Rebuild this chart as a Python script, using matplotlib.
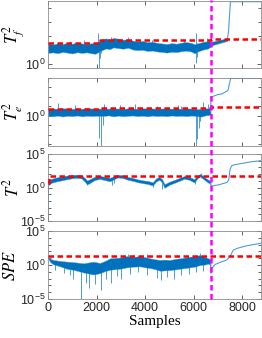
import numpy as np
import matplotlib
matplotlib.use("Agg")
import matplotlib.pyplot as plt
from matplotlib.ticker import FixedLocator, NullFormatter, LogFormatterSciNotation
from matplotlib.lines import Line2D

plt.rcParams["font.family"] = ["Liberation Sans", "DejaVu Sans"]
plt.rcParams["mathtext.fontset"] = "stix"

# all y values are log10 of the statistic
fault = 6710
x_end = 8780
x_ticks = [0, 2000, 4000, 6000, 8000]

# ---- T_f^2
tf_x = [0, 200, 400, 600, 800, 1000, 1200, 1400, 1600, 1800, 1950, 2250, 2400, 2550, 2700, 2900,
        3100, 3300, 3500, 3700, 3900, 4100, 4300, 4500, 4700, 4900, 5100, 5300, 5500, 5700,
        5900, 6050, 6200, 6400, 6600, 6800, 7000, 7200, 7400]
tf_hi = [1.45, 1.38, 1.47, 1.42, 1.50, 1.44, 1.52, 1.46, 1.40, 1.48, 1.45, 1.78, 1.82, 1.74, 1.86, 1.80,
         1.72, 1.78, 1.66, 1.60, 1.64, 1.55, 1.58, 1.50, 1.46, 1.42, 1.48, 1.44, 1.52, 1.56,
         1.50, 1.40, 1.48, 1.58, 1.62, 1.60, 1.68, 1.76, 1.86]
tf_lo = [0.78, 0.82, 0.76, 0.85, 0.80, 0.74, 0.83, 0.78, 0.82, 0.75, 0.72, 1.00, 1.10, 1.05, 1.18, 1.12,
         1.08, 1.15, 1.02, 0.98, 1.00, 0.92, 0.95, 0.88, 0.85, 0.80, 0.86, 0.84, 0.90, 0.94,
         0.88, 0.75, 0.90, 1.02, 1.10, 1.35, 1.45, 1.55, 1.65]
tf_spk_x = [2080, 2110, 2150, 2200, 6090, 6120, 6160, 900, 1500, 3300, 4300, 5600, 6550, 2600]
tf_spk_a = [1.2, -0.5, 0.4, 0.8, 1.2, 0.05, 0.5, 1.3, 1.3, 1.6, 1.4, 1.4, 1.5, 1.5]
tf_spk_b = [2.2, 1.4, 1.6, 1.7, 2.2, 1.4, 1.5, 1.62, 1.68, 1.95, 1.72, 1.70, 1.85, 1.95]
tf_post_x = [7400, 7440, 7480, 7520, 8780]
tf_post_y = [1.8, 2.3, 3.4, 4.45, 4.45]
tf_thr_x = [0, 2150, fault, x_end]
tf_thr_y = [1.46, 1.70, 1.79, 1.79]

# ---- T_e^2
te_x = [0, 200, 400, 600, 800, 1000, 1200, 1400, 1600, 1800, 2000, 2300, 2500, 2700, 2900, 3100,
        3300, 3500, 3700, 3900, 4100, 4300, 4500, 4700, 4900, 5100, 5300, 5500, 5700, 5900,
        6050, 6300, 6500, 6700]
te_hi = [0.72, 0.78, 0.74, 0.80, 0.76, 0.73, 0.79, 0.75, 0.81, 0.77, 0.74, 0.78, 0.75, 0.80, 0.76, 0.73,
         0.79, 0.77, 0.74, 0.80, 0.76, 0.78, 0.73, 0.77, 0.80, 0.75, 0.78, 0.74, 0.79, 0.76,
         0.72, 0.70, 0.78, 0.80]
te_lo = [0.05, -0.05, 0.02, -0.08, 0.00, -0.04, 0.03, -0.06, 0.01, -0.03, 0.00, -0.02, 0.04, -0.07, 0.02, -0.05,
         0.00, 0.03, -0.04, 0.01, -0.06, 0.02, -0.03, 0.00, -0.05, 0.03, -0.02, 0.01, -0.04, 0.02,
         0.00, -0.10, 0.05, 0.10]
te_spk_x = [2090, 2190, 2250, 6100, 6150, 6220, 6270, 400, 1100, 2300, 2970, 3600, 4500, 5370, 5500, 6400, 6600]
te_spk_a = [-2.4, -3.5, -1.0, -3.5, -2.5, -1.3, -0.5, 0.6, 0.6, 0.6, 0.6, 0.6, 0.6, 0.6, 0.6, 0.6, 0.6]
te_spk_b = [0.3, 0.3, 0.3, 0.3, 0.3, 0.3, 0.3, 1.35, 1.1, 1.25, 1.15, 1.2, 1.05, 1.1, 1.0, 1.5, 1.3]
te_post_x = [6700, 6720, 6850, 7000, 7150, 7300, 7420, 7480, 7530, 8780]
te_post_y = [0.4, 2.0, 2.1, 2.25, 2.3, 2.5, 2.7, 3.4, 3.95, 3.95]
te_thr_x = [0, 2150, fault, x_end]
te_thr_y = [0.69, 0.79, 0.90, 0.90]

# ---- T^2
t2_x = [0, 140, 345, 550, 760, 965, 1170, 1380, 1510, 1610, 1750, 1920, 2130, 2330, 2540, 2650,
        2750, 2880, 3090, 3290, 3500, 3700, 3900, 4110, 4320, 4450, 4590, 4700, 4800, 5000,
        5200, 5410, 5620, 5820, 6030, 6170, 6280, 6440, 6580, 6700]
t2_hi = [0.95, 1.30, 1.50, 1.62, 1.78, 1.85, 1.92, 1.85, 1.45, 1.05, 1.28, 1.60, 1.75, 1.60, 1.45, 1.58,
         1.75, 1.90, 1.82, 1.58, 1.42, 1.22, 1.08, 0.98, 0.78, 1.35, 1.58, 1.25, 0.50, 0.85,
         1.12, 1.42, 1.72, 1.58, 1.25, 1.82, 2.02, 1.58, 1.22, 0.95]
t2_lo = [0.30, 0.70, 0.90, 1.05, 1.22, 1.35, 1.45, 1.35, 0.90, 0.45, 0.72, 1.10, 1.28, 1.12, 0.92, 1.10,
         1.28, 1.50, 1.40, 1.15, 0.98, 0.78, 0.65, 0.52, 0.30, 0.88, 1.15, 0.75, -0.05, 0.40,
         0.68, 0.98, 1.30, 1.15, 0.75, 1.40, 1.65, 1.15, 0.78, 0.50]
t2_spk_x = [10, 1610, 2650, 2720, 4340, 4700, 6050, 6300]
t2_spk_a = [-4.95, 0.4, 0.3, 0.6, 0.1, -0.2, 0.5, 1.4]
t2_spk_b = [0.6, 0.9, 1.3, 1.5, 0.6, 1.0, 1.1, 2.1]
t2_post_x = [6700, 6720, 7000, 7200, 7370, 7450, 7500, 7560, 7640, 8000, 8400, 8780]
t2_post_y = [0.75, 0.22, 0.37, 0.57, 0.75, 1.1, 2.6, 3.2, 3.36, 3.6, 3.85, 4.0]
t2_thr_x = [0, 60, fault, x_end]
t2_thr_y = [0.63, 1.72, 1.76, 1.76]

# ---- SPE
spe_x = [0, 100, 220, 500, 770, 1100, 1460, 1870, 2145, 2350, 2560, 2970, 3250, 3500, 3800, 4000,
         4210, 4400, 4620, 4800, 5030, 5250, 5440, 5650, 5860, 6050, 6270, 6450, 6610, 6700]
spe_hi = [1.23, 0.90, 0.74, 0.60, 0.50, 0.40, 0.25, 0.49, 0.30, 0.60, 0.98, 1.10, 1.30, 1.20, 1.30, 1.15,
          0.98, 0.85, 0.74, 0.80, 0.74, 0.90, 0.98, 1.10, 1.23, 1.30, 1.47, 1.20, 0.98, 0.80]
spe_lo = [1.00, 0.40, 0.10, -0.20, -0.55, -0.75, -1.10, -1.40, -1.20, -0.90, -0.70, -0.55, -0.35, -0.25, -0.20, -0.35,
          -0.45, -0.60, -0.85, -0.80, -0.75, -0.65, -0.55, -0.45, -0.35, -0.25, 0.00, 0.05, 0.20, 0.00]
spe_spk_x = [300, 650, 900, 1050, 1350, 1550, 1700, 1950, 2180, 2400, 2600, 2850, 3000, 3400, 3700,
             4100, 4500, 4650, 4900, 5200, 5500, 5800, 6100, 6400, 3300, 3500, 4100, 6250]
spe_spk_a = [-0.8, -1.2, -1.5, -2.0, -4.95, -2.6, -3.4, -2.8, -3.7, -2.0, -2.7, -1.6, -2.0, -1.3, -1.1,
             -1.4, -1.9, -2.2, -1.8, -2.0, -1.5, -1.3, -1.1, -0.9, 0.8, 0.8, 0.6, 0.9]
spe_spk_b = [0.2, 0.0, -0.2, -0.3, -0.5, -0.6, -0.6, -0.5, -0.5, -0.3, 0.0, 0.2, 0.2, 0.4, 0.4,
             0.2, 0.0, -0.2, -0.2, 0.0, 0.2, 0.3, 0.4, 0.4, 1.6, 1.5, 1.55, 1.7]
spe_post_x = [6700, 6720, 6750, 6900, 7100, 7370, 7500, 7640, 7800, 8150, 8780]
spe_post_y = [0.2, -1.2, -0.5, 0.1, 0.4, 0.74, 1.23, 2.2, 2.45, 2.8, 3.2]
spe_thr_x = [0, x_end]
spe_thr_y = [1.32, 1.32]

blue = "#0072BD"
light = "#4d9bd6"
dash = (0, (2.2, 1.4))

fig = plt.figure(figsize=(2.62, 3.38), dpi=100)
W, H = 262.0, 338.0
left, width = 48 / W, 213 / W
tops = [1, 78, 154, 231]
bots = [68, 146, 221, 299]

panels = [
    (r"$T_f^2$", tf_x, tf_lo, tf_hi, tf_spk_x, tf_spk_a, tf_spk_b, tf_post_x, tf_post_y, tf_thr_x, tf_thr_y,
     (-0.3, 4.5), [0], [1, 2, 3, 4], -0.1),
    (r"$T_e^2$", te_x, te_lo, te_hi, te_spk_x, te_spk_a, te_spk_b, te_post_x, te_post_y, te_thr_x, te_thr_y,
     (-3.2, 4.0), [0], [-3, -2, -1, 1, 2, 3, 4], -0.108),
    (r"$T^2$", t2_x, t2_lo, t2_hi, t2_spk_x, t2_spk_a, t2_spk_b, t2_post_x, t2_post_y, t2_thr_x, t2_thr_y,
     (-5, 5), [-5, 0, 5], [-4, -3, -2, -1, 1, 2, 3, 4], -0.125),
    (r"$SPE$", spe_x, spe_lo, spe_hi, spe_spk_x, spe_spk_a, spe_spk_b, spe_post_x, spe_post_y, spe_thr_x, spe_thr_y,
     (-5, 5), [-5, 0, 5], [-4, -3, -2, -1, 1, 2, 3, 4], -0.14),
]

axes = []
for i, (lab, bx, blo, bhi, sx, sa, sb, px, py, thx, thy, ylim, major, minor, labx) in enumerate(panels):
    ax = fig.add_axes([left, 1 - bots[i] / H, width, (bots[i] - tops[i]) / H])
    ax.set_yscale("log")
    ax.vlines(sx, 10.0 ** np.array(sa), 10.0 ** np.array(sb), color=light, lw=0.7, zorder=1)
    ax.fill_between(bx, 10.0 ** np.array(blo), 10.0 ** np.array(bhi), color=blue,
                    edgecolor=light, lw=0.3, zorder=2)
    ax.plot(px, 10.0 ** np.array(py), color=light, lw=0.8, zorder=2)
    ax.plot(thx, 10.0 ** np.array(thy), color="#FF0000", lw=1.8, ls=dash,
            drawstyle="steps-post", zorder=3)
    ax.set_xlim(0, x_end)
    ax.set_ylim(10.0 ** ylim[0], 10.0 ** ylim[1])
    ax.yaxis.set_major_locator(FixedLocator([10.0 ** e for e in major]))
    ax.yaxis.set_major_formatter(LogFormatterSciNotation())
    ax.yaxis.set_minor_locator(FixedLocator([10.0 ** e for e in minor]))
    ax.yaxis.set_minor_formatter(NullFormatter())
    ax.set_xticks(x_ticks)
    ax.tick_params(which="both", direction="in", top=True, right=True, labelsize=9,
                   colors="#262626", length=3, width=0.5, pad=2)
    ax.tick_params(which="minor", length=2)
    for sp in ax.spines.values():
        sp.set_color("#8c8c8c")
        sp.set_linewidth(0.6)
    ax.set_ylabel(lab, fontsize=12)
    ax.yaxis.set_label_coords(labx, 0.5)
    if i < 3:
        ax.set_xticklabels([])
    axes.append(ax)

axes[-1].set_xlabel("Samples", fontsize=11, family=["Liberation Serif", "DejaVu Serif"], labelpad=1)

# fault marker spanning all panels
xf = fig.transFigure.inverted().transform(axes[-1].transData.transform((fault, 1.0)))[0]
fig.add_artist(Line2D([xf, xf], [1 - bots[3] / H, 1.0], color="#FF00FF", lw=1.8, ls=dash, zorder=5))

fig.savefig("out.png", dpi=100)
